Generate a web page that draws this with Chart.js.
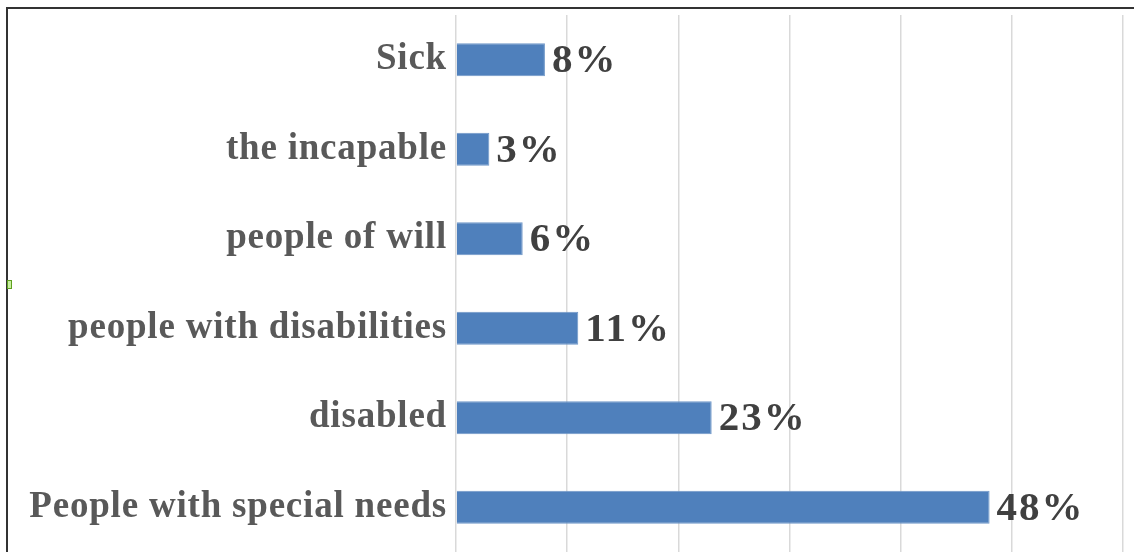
<!DOCTYPE html>
<html>
<head>
<meta charset="utf-8">
<script src="https://cdn.jsdelivr.net/npm/chart.js@4.4.1/dist/chart.umd.min.js"></script>
<style>
  html, body { margin: 0; padding: 0; background: #fff; overflow: hidden; }
  #frame {
    position: absolute; left: 6px; top: 7px; width: 2000px; height: 2000px;
    border-top: 2px solid #333; border-left: 2px solid #333;
  }
  #handle {
    position: absolute; left: 7px; top: 280px; width: 3px; height: 7px;
    border: 1px solid #5fa020; background: #c8f0a0;
  }
  #miGrafico { position: absolute; left: 0; top: 0; }
</style>
</head>
<body>
<div id="frame"></div>
<canvas id="miGrafico" width="1134" height="552"></canvas>
<div id="handle"></div>
<script>
// datos del grafico
const categorias = ['Sick', 'the incapable', 'people of will', 'people with disabilities', 'disabled', 'People with special needs'];
const valores = [8, 3, 6, 11, 23, 48];
const ejeMax = 60;
const ejePaso = 10;

// espaciado de letras como en la imagen original
const espaciado = {
    id: 'espaciado',
    beforeDraw(chart) {
        chart.ctx.letterSpacing = '0.8px';
    }
};

// etiquetas de valor al final de cada barra
const etiquetasValor = {
    id: 'etiquetasValor',
    afterDatasetsDraw(chart) {
        const ctx = chart.ctx;
        const meta = chart.getDatasetMeta(0);
        ctx.save();
        ctx.letterSpacing = '2px';
        ctx.font = 'bold 41px "Liberation Serif", "Times New Roman", serif';
        ctx.fillStyle = '#404040';
        ctx.textAlign = 'left';
        ctx.textBaseline = 'middle';
        meta.data.forEach((bar, i) => {
            ctx.fillText(valores[i] + '%', bar.x + 7, bar.y + 2);
        });
        ctx.restore();
    }
};

const ctx = document.getElementById('miGrafico').getContext('2d');
new Chart(ctx, {
    type: 'bar',
    data: {
        labels: categorias,
        datasets: [{
            data: valores,
            backgroundColor: '#4f80bc',
            borderColor: '#6f97c8',
            borderWidth: 1,
            barPercentage: 0.37,
            categoryPercentage: 1,
        }]
    },
    options: {
        indexAxis: 'y',
        responsive: false,
        animation: false,
        layout: { padding: { top: 15, right: 11, bottom: 0, left: 0 } },
        plugins: {
            legend: { display: false },
            tooltip: { enabled: false },
        },
        scales: {
            x: {
                min: 0,
                max: ejeMax,
                ticks: { display: false, stepSize: ejePaso },
                grid: { color: '#d9d9d9', lineWidth: 1.5, drawTicks: false },
                border: { display: false },
                afterFit(scale) { scale.height = 0; scale.paddingLeft = 0; scale.paddingRight = 0; },
            },
            y: {
                ticks: {
                    padding: 9,
                    color: '#595959',
                    font: { family: '"Liberation Serif", "Times New Roman", serif', size: 37, weight: 'bold' },
                },
                grid: { display: false, drawTicks: false },
                border: { display: false },
                afterFit(scale) {
                    scale.width = 456;
                    scale.paddingTop = 0;
                    scale.paddingBottom = 0;
                },
            }
        }
    },
    plugins: [espaciado, etiquetasValor]
});
</script>
</body>
</html>
